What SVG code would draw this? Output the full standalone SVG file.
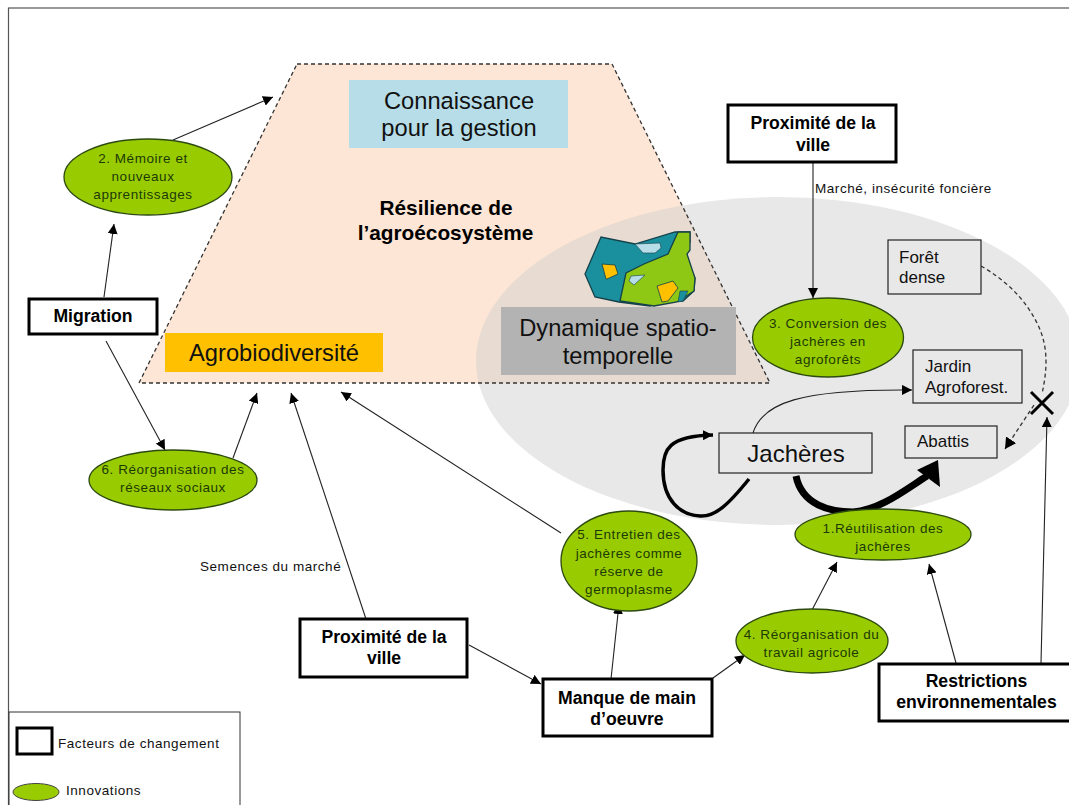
<svg xmlns="http://www.w3.org/2000/svg" width="1069" height="805" viewBox="0 0 1069 805">
<style>
text{font-family:"Liberation Sans",Arial,sans-serif;text-anchor:middle;fill:#111}
.in{font-size:13.500px;fill:#1c3a06;letter-spacing:.55px}
.el{fill:#99cc00;stroke:#2c4a10;stroke-width:1.3}
.fac{fill:#fff;stroke:#000;stroke-width:3}
.fac-t{font-size:17.600px;font-weight:bold;fill:#000}
.st{fill:#e8e8e8;stroke:#222;stroke-width:1.2}
.c{fill:none;stroke:#222;stroke-width:1.1;marker-end:url(#a)}
.lb{font-size:13.500px;letter-spacing:.55px}
.big{font-size:23.700px;fill:#111}
.s{font-size:17px;text-anchor:start}
.res{font-size:20.800px;font-weight:bold;fill:#000}
</style>
<defs>
<marker id="a" markerUnits="userSpaceOnUse" markerWidth="11" markerHeight="10" refX="10" refY="5" orient="auto"><path d="M0 0L10 5L0 10Z" fill="#000"/></marker>
<marker id="m" markerUnits="userSpaceOnUse" markerWidth="12" markerHeight="12" refX="11" refY="6" orient="auto"><path d="M0 0L11 6L0 12Z" fill="#000"/></marker>
</defs>
<rect x="0" y="0" width="1069" height="805" fill="#fff"/>
<rect x="8.500" y="8" width="1070" height="810" fill="none" stroke="#555" stroke-width="1.200"/>
<g id="trapeze"><path d="M297 64H612L770 383H139Z" fill="#fde6d5"/></g>
<g id="zone-grise"><ellipse cx="778" cy="361" rx="302" ry="164" fill="#cfcfcf" fill-opacity=".48"/></g>
<path d="M297 64H612L770 383H139Z" fill="none" stroke="#333" stroke-width="1.300" stroke-dasharray="4 3"/>
<g id="connaissance"><rect x="349" y="80" width="219" height="68" fill="#b7dde8"/><text class="big" x="459" y="109">Connaissance</text><text class="big" x="459" y="136">pour la gestion</text></g>
<g id="resilience"><text class="res" x="446" y="215">Résilience de</text><text class="res" x="445.500" y="240">l’agroécosystème</text></g>
<g id="agrobiodiversite"><rect x="165" y="333" width="218" height="39" fill="#ffc000"/><text class="big" x="274" y="361">Agrobiodiversité</text></g>
<g id="carte">
<path d="M601 237L585 274L595 297L619 302L650 306L656 302L683 301L694 291L695 278L688 262L686 252L690 242V232L679 232L675 232L635 244Z" fill="#1a8f9e" stroke="#14414a" stroke-width="1.300"/>
<path d="M678 232L690 232V250L687 254L695 278L694 291L677 302L654 306L620 301L626 273L644 264L668 254Z" fill="#8fc715" stroke="#14414a" stroke-width="1.300"/>
<path d="M635 244L660 243L661 248L655 253L643 253Z" fill="#b7dde8" stroke="#14414a" stroke-width=".6"/>
<path d="M602 264L615 265L618 274L607 279L606 279Z" fill="#ffc000" stroke="#14414a" stroke-width=".8"/>
<path d="M631 276L645 275L634 285L629 281Z" fill="#b7dde8" stroke="#14414a" stroke-width=".6"/>
<path d="M657 286L673 281L678 288L668 301L662 302Z" fill="#ffc000" stroke="#14414a" stroke-width=".8"/>
<path d="M680 291L688 291L683 301L678 302Z" fill="#1a8f9e" stroke="#14414a" stroke-width=".6"/>
</g>
<g id="dynamique"><rect x="501" y="307" width="235" height="68" fill="#b3b3b3"/><text class="big" x="618" y="336">Dynamique spatio-</text><text class="big" x="618" y="364">temporelle</text></g>
<g id="connectors">
<path class="c" d="M173 140L273 97"/>
<path class="c" d="M104 297L114 224"/>
<path class="c" d="M106 341L165 450"/>
<path class="c" d="M233 458L257 393"/>
<path class="c" d="M366 619L291 393"/>
<path class="c" d="M561 533L341 392"/>
<path class="c" d="M611 679L619 604"/>
<path class="c" d="M469 645L541 684"/>
<path class="c" d="M713 678L745 655"/>
<path class="c" d="M812 610L837 562"/>
<path class="c" d="M956 663L929 564"/>
<path class="c" d="M1041 663L1047 417"/>
<path class="c" d="M813 163V298"/>
<path class="c" d="M753 433C762 403 800 389 912 390"/>
<path d="M981 266C1005 280 1025 298 1038 325C1050 350 1046 375 1042 394" fill="none" stroke="#333" stroke-width="1.300" stroke-dasharray="4 3"/>
<path d="M1034 405L1005 449" fill="none" stroke="#333" stroke-width="1.300" stroke-dasharray="4 3" marker-end="url(#m)"/>
<path d="M749 479C728 505 715 517 700 516C680 515 663 500 663 470C663 450 668 436 713 435" fill="none" stroke="#000" stroke-width="3.500" marker-end="url(#a)"/>
<path d="M796 476C802 505 830 512 853 512C880 510 905 490 927 476" fill="none" stroke="#000" stroke-width="7"/>
<path d="M938 460L940 487L917 470Z" fill="#000"/>
</g>
<g id="x"><path d="M1031 392L1053 414M1053 392L1031 414" stroke="#000" stroke-width="3" fill="none"/></g>
<g id="foret"><rect x="888" y="240" width="93" height="54" class="st"/><text class="s" x="899" y="263">Forêt</text><text class="s" x="899" y="283">dense</text></g>
<g id="jardin"><rect x="913" y="350" width="109" height="53" class="st"/><text class="s" x="925" y="372">Jardin</text><text class="s" x="925" y="393">Agroforest.</text></g>
<g id="abattis"><rect x="905" y="426" width="92" height="32" class="st"/><text class="s" x="917" y="447">Abattis</text></g>
<g id="jacheres"><rect x="719" y="433" width="153" height="40" class="st"/><text x="796" y="462" font-size="24">Jachères</text></g>
<g id="n2"><ellipse class="el" cx="148" cy="177" rx="84" ry="38"/><text class="in" x="143" y="163">2. Mémoire et</text><text class="in" x="143" y="181">nouveaux</text><text class="in" x="143" y="199">apprentissages</text></g>
<g id="n3"><ellipse class="el" cx="828" cy="337.500" rx="75.500" ry="39.500"/><text class="in" x="828" y="328">3. Conversion des</text><text class="in" x="828" y="346">jachères en</text><text class="in" x="828" y="364">agroforêts</text></g>
<g id="n6"><ellipse class="el" cx="173" cy="480" rx="84" ry="30"/><text class="in" x="173" y="474">6. Réorganisation des</text><text class="in" x="173" y="492">réseaux sociaux</text></g>
<g id="n5"><ellipse class="el" cx="629" cy="561" rx="68" ry="50"/><text class="in" x="629" y="539">5. Entretien des</text><text class="in" x="629" y="558">jachères comme</text><text class="in" x="629" y="576">réserve de</text><text class="in" x="629" y="594">germoplasme</text></g>
<g id="n1"><ellipse class="el" cx="883" cy="534.500" rx="88" ry="25.500"/><text class="in" x="883" y="533">1.Réutilisation des</text><text class="in" x="883" y="551">jachères</text></g>
<g id="n4"><ellipse class="el" cx="812" cy="641" rx="76" ry="32"/><text class="in" x="811.500" y="639">4. Réorganisation du</text><text class="in" x="811.500" y="657">travail agricole</text></g>
<g id="migration"><rect x="29" y="299" width="128" height="35" class="fac"/><text class="fac-t" x="93" y="322">Migration</text></g>
<g id="ville1"><rect x="728" y="105" width="168" height="57" class="fac"/><text class="fac-t" x="813" y="129">Proximité de la</text><text class="fac-t" x="813" y="151">ville</text></g>
<g id="ville2"><rect x="300" y="619" width="167" height="58" class="fac"/><text class="fac-t" x="384" y="643">Proximité de la</text><text class="fac-t" x="384" y="664">ville</text></g>
<g id="main"><rect x="543" y="679" width="169" height="57" class="fac"/><text class="fac-t" x="627" y="704">Manque de main</text><text class="fac-t" x="627" y="725">d’oeuvre</text></g>
<g id="restrictions"><rect x="879" y="664" width="200" height="57" class="fac"/><text class="fac-t" x="976.500" y="687">Restrictions</text><text class="fac-t" x="976.500" y="708">environnementales</text></g>
<text class="lb" x="815" y="193" style="text-anchor:start">Marché, insécurité foncière</text>
<text class="lb" x="200" y="571" style="text-anchor:start">Semences du marché</text>
<g id="legende"><rect x="9" y="712" width="231" height="100" fill="#fff" stroke="#333" stroke-width="1"/><rect x="17" y="728" width="35" height="26" fill="#fff" stroke="#000" stroke-width="3"/><text class="lb" x="58" y="748" style="text-anchor:start">Facteurs de changement</text><ellipse cx="36" cy="792" rx="23" ry="8.500" fill="#99cc00" stroke="#444" stroke-width="1"/><text class="lb" x="66" y="795" style="text-anchor:start">Innovations</text></g>
</svg>
